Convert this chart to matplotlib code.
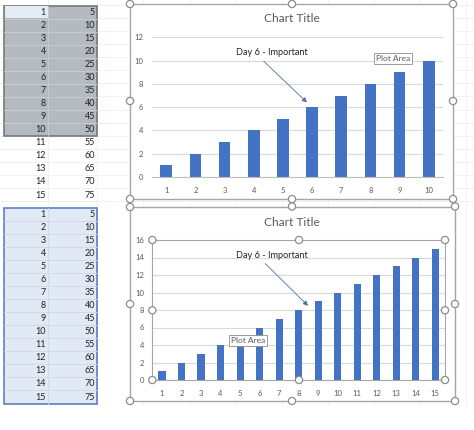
import matplotlib
matplotlib.use('Agg')
import matplotlib.pyplot as plt
from matplotlib.patches import Rectangle, Circle

plt.rcParams['font.family'] = ['Lato', 'DejaVu Sans']

# sheet data (column A / column B)
col_a = [1, 2, 3, 4, 5, 6, 7, 8, 9, 10, 11, 12, 13, 14, 15]
col_b = [5, 10, 15, 20, 25, 30, 35, 40, 45, 50, 55, 60, 65, 70, 75]

# chart series (top chart uses the first 10 rows, bottom chart all 15)
top_days = [1, 2, 3, 4, 5, 6, 7, 8, 9, 10]
top_vals = [1, 2, 3, 4, 5, 6, 7, 8, 9, 10]
bot_days = [1, 2, 3, 4, 5, 6, 7, 8, 9, 10, 11, 12, 13, 14, 15]
bot_vals = [1, 2, 3, 4, 5, 6, 7, 8, 9, 10, 11, 12, 13, 14, 15]

W, H = 474, 430
BAR = '#4472C4'
GRID = '#D9D9D9'
TXT = '#595959'

fig = plt.figure(figsize=(W / 100, H / 100), dpi=100)
fig.patch.set_facecolor('white')

# background "sheet" axes in pixel coords
bg = fig.add_axes([0, 0, 1, 1])
bg.set_xlim(0, W)
bg.set_ylim(H, 0)
bg.axis('off')

# faint sheet gridlines
for k in range(16):
    y = 5 + 13.07 * k
    bg.plot([0, W], [y, y], color='#EFEFEF', lw=0.6, zorder=0)
for x in [48, 97, 143, 190, 236, 282, 328, 374, 420, 466]:
    bg.plot([x, x], [0, 405], color='#EFEFEF', lw=0.6, zorder=0)

# top table
row_h = 13.07
y0 = 5.5
bg.add_patch(Rectangle((4, y0), 93, row_h * 10, facecolor='#B5BAC0',
                       edgecolor='#6E7F73', lw=1.2, zorder=1))
bg.add_patch(Rectangle((4.8, y0 + 0.8), 43, row_h - 1.2, facecolor='#E6ECF5',
                       edgecolor='none', zorder=1))
for k in range(1, 10):
    bg.plot([4, 97], [y0 + row_h * k] * 2, color='#C9CDD2', lw=0.6, zorder=1)
bg.plot([48, 48], [y0, y0 + row_h * 10], color='#C9CDD2', lw=0.6, zorder=1)
for i in range(15):
    yc = y0 + row_h * (i + 0.5)
    bg.text(46, yc, str(col_a[i]), ha='right', va='center', fontsize=6.5, color='#222222', zorder=2)
    bg.text(95, yc, str(col_b[i]), ha='right', va='center', fontsize=6.5, color='#222222', zorder=2)

# bottom table
y1 = 207.5
bg.add_patch(Rectangle((4, y1), 93, row_h * 15, facecolor='#E1E9F5',
                       edgecolor='#5B7FC4', lw=1.2, zorder=1))
for k in range(1, 15):
    bg.plot([4, 97], [y1 + row_h * k] * 2, color='#CFD8E6', lw=0.6, zorder=1)
bg.plot([48, 48], [y1, y1 + row_h * 15], color='#CFD8E6', lw=0.6, zorder=1)
for i in range(15):
    yc = y1 + row_h * (i + 0.5)
    bg.text(46, yc, str(col_a[i]), ha='right', va='center', fontsize=6.5, color='#222222', zorder=2)
    bg.text(95, yc, str(col_b[i]), ha='right', va='center', fontsize=6.5, color='#222222', zorder=2)

# chart frames
bg.add_patch(Rectangle((130, 4), 323, 195, facecolor='white', edgecolor='#A6A6A6', lw=1.0, zorder=3))
bg.add_patch(Rectangle((130, 206.5), 325, 194.5, facecolor='white', edgecolor='#A6A6A6', lw=1.0, zorder=3))
bg.text(292, 19, 'Chart Title', ha='center', va='center', fontsize=8.6, color=TXT, zorder=4)
bg.text(292, 222, 'Chart Title', ha='center', va='center', fontsize=8.6, color=TXT, zorder=4)


def px_axes(l, t, r, b):
    return fig.add_axes([l / W, 1 - b / H, (r - l) / W, (b - t) / H])


def style(ax, ymax, framed):
    ax.set_ylim(0, ymax)
    ax.set_yticks(range(0, ymax + 1, 2))
    ax.grid(axis='y', color=GRID, lw=0.8)
    ax.set_axisbelow(True)
    for s in ['top', 'right', 'left']:
        ax.spines[s].set_visible(framed)
        ax.spines[s].set_color('#A6A6A6')
    ax.spines['bottom'].set_color('#BFBFBF' if not framed else '#A6A6A6')
    ax.tick_params(length=0, labelsize=5.5, labelcolor=TXT)
    ax.tick_params(axis='y', pad=6)
    ax.tick_params(axis='x', pad=7)
    ax.set_facecolor('none')


# top chart
ax1 = px_axes(151.7, 37.3, 443.3, 177)
ax1.bar(top_days, top_vals, width=0.4, color=BAR, zorder=2)
ax1.set_xlim(0.5, 10.5)
ax1.set_xticks(top_days)
style(ax1, 12, False)

# bottom chart
ax2 = px_axes(152.3, 240, 445, 380)
ax2.bar(bot_days, bot_vals, width=0.37, color=BAR, zorder=2)
ax2.set_xlim(0.5, 15.5)
ax2.set_xticks(bot_days)
style(ax2, 16, True)

# overlay: annotations, tooltips, selection handles
ov = fig.add_axes([0, 0, 1, 1])
ov.set_xlim(0, W)
ov.set_ylim(H, 0)
ov.axis('off')
ov.patch.set_alpha(0)

arrow = dict(arrowstyle='-|>', color='#4A6FA5', lw=0.6, mutation_scale=7)
ov.text(271.7, 52.7, 'Day 6 - Important', ha='center', va='center', fontsize=6.6, color='#222222')
ov.annotate('', xy=(309, 104.3), xytext=(261.7, 59.3), arrowprops=arrow)
ov.text(272.3, 255.7, 'Day 6 - Important', ha='center', va='center', fontsize=6.6, color='#222222')
ov.annotate('', xy=(310, 307.7), xytext=(263.3, 261.7), arrowprops=arrow)

for (tx, ty) in [(393.3, 58.8), (248, 340.8)]:
    ov.text(tx, ty, 'Plot Area', ha='center', va='center', fontsize=6, color='#595959',
            bbox=dict(boxstyle='square,pad=0.25', facecolor='white', edgecolor='#8C8C8C', lw=0.6))

handles = [(130, 4), (292, 4), (453, 4), (130, 101), (453, 101), (130, 199), (292, 199), (453, 199),
           (130, 207), (292, 206.5), (455, 206.5), (130, 304), (455, 304), (130, 401), (292, 401), (455, 401),
           (152.3, 240), (299, 240), (445, 240), (152.3, 310.3), (445, 310.3),
           (152.3, 380), (299, 380), (445, 380)]
for hx, hy in handles:
    ov.add_patch(Circle((hx, hy), 3.6, facecolor='white', edgecolor='#8C8C8C', lw=0.9, zorder=5))

plt.savefig('out.png', dpi=100)
